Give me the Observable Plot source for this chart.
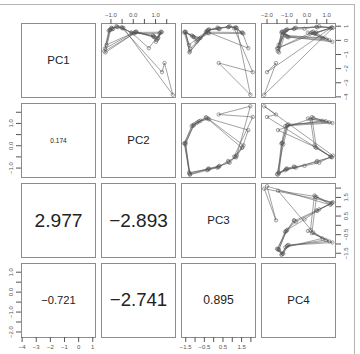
<!DOCTYPE html>
<html>
<head>
<meta charset="utf-8">
<script src="https://cdn.jsdelivr.net/npm/d3@7"></script>
<script src="https://cdn.jsdelivr.net/npm/@observablehq/plot@0.6"></script>
<style>
  html, body { margin: 0; padding: 0; background: #fff; }
  #wrap { position: relative; width: 360px; height: 354px; overflow: hidden; font-family: "Liberation Sans", Arial, sans-serif; }
  #wrap svg { position: absolute; overflow: visible; }
  #border { position: absolute; left: -2px; top: 4px; width: 356px; height: 360px; border-top: 1px solid #b4b4b4; border-right: 1px solid #b4b4b4; }
</style>
</head>
<body>
<div id="wrap"><div id="border"></div></div>
<script>
// Variables
const varNames = ["PC1", "PC2", "PC3", "PC4"];

const PC1 = [0.55, 0.12, 0.30, 0.62, -0.32, 0.72, 0.86, 0.96, 0.90, 0.52, -0.55,
             0.62, 0.02, 0.22, 0.58, -0.58, 0.78, 0.82, 1.00, 0.88,
             -3.85, -1.60, -2.25, 0.85, 0.48,
             0.50, 0.18, 0.35, 0.55, -0.78, 0.68, 0.90, 0.93, 0.92, 0.56,
             0.58, -0.10, 0.25, 0.60, -0.85, 0.74, 0.80];
const PC2 = [1.22, 1.10, 0.92, 0.12, -1.20, -1.06, -0.96, -0.73, -0.50, -0.06, 0.70,
             1.25, 1.05, 0.96, 0.06, -1.27, -1.04, -0.90, -0.76, -0.44,
             1.77, 1.40, 1.29, -0.48, 0.02,
             1.18, 1.12, 0.88, 0.10, -1.30, -1.10, -0.98, -0.68, -0.52, -0.10,
             1.28, 1.02, 0.90, 0.14, -1.24, -1.02, -0.93];
const PC3 = [-0.30, -0.78, -1.12, -1.55, -1.32, -0.32, 0.24, 0.80, 1.16, 1.55, 1.86,
             -0.38, -0.86, -1.05, -1.52, -1.26, -0.24, 0.32, 0.86, 1.24,
             1.97, 0.27, 2.10, 1.10, 1.60,
             -0.25, -0.70, -1.18, -1.58, -1.28, -0.35, 0.20, 0.78, 1.20, 1.52,
             -0.42, -0.92, -1.08, -1.50, -1.30, -0.28, 0.28];
const PC4 = [0.05, 0.95, -1.00, -1.25, -1.42, -1.05, -0.62, 0.48, 1.22, 0.42, -1.45,
             0.32, 1.12, -0.92, -1.18, -1.50, -0.98, -0.12, 0.62, 1.30,
             -2.14, -1.55, -2.00, 1.18, 0.38,
             0.18, 0.78, -1.08, -1.28, -1.46, -1.10, -0.55, 0.52, 1.26, 0.48,
             0.25, 1.28, -0.98, -1.22, -1.40, -1.02, -0.65];

// Lower-panel values (row, col order: PC2/PC1, PC3/PC1, PC3/PC2, PC4/PC1, PC4/PC2, PC4/PC3)
const lowerValues = [0.174, 2.977, -2.893, -0.721, -2.741, 0.895];

// Tick values and labelled ticks
const pc1Ticks = [-4, -3, -2, -1, 0, 1];
const pc1Labels = [-4, -3, -2, -1, 0, 1];
const pc2Ticks = [-1, -0.5, 0, 0.5, 1, 1.5];
const pc2Labels = [-1, 0, 1];
const pc3Ticks = [-1.5, -1, -0.5, 0, 0.5, 1, 1.5, 2];
const pc3Labels = [-1.5, -0.5, 0.5, 1.5];
const pc4Ticks = [-2, -1.5, -1, -0.5, 0, 0.5, 1];
const pc4Labels = [-2, -1, 0, 1];

const series = [PC1, PC2, PC3, PC4];
const ticks = [pc1Ticks, pc2Ticks, pc3Ticks, pc4Ticks];
const labels = [pc1Labels, pc2Labels, pc3Labels, pc4Labels];
const fmts = [d3.format("d"), d3.format(".1f"), d3.format(".1f"), d3.format(".1f")];
const minus = s => s.replace("-", "\u2212");

const data = PC1.map((_, k) => ({PC1: PC1[k], PC2: PC2[k], PC3: PC3[k], PC4: PC4[k]}));

// R-style 4% padded ranges
const domains = series.map(s => {
  const [a, b] = d3.extent(s);
  const p = (b - a) * 0.04;
  return [a - p, b + p];
});

const lowerMap = {};
let li = 0;
for (let i = 1; i < 4; i++) for (let j = 0; j < i; j++) lowerMap[i + "," + j] = lowerValues[li++];

const M = 24, S = 74, PITCH = 80, X0 = 21, Y0 = 23;
const frameColor = "#8c8c8c", inkColor = "#555555", tickText = "#555555";
const wrap = document.getElementById("wrap");

for (let i = 0; i < 4; i++) {
  for (let j = 0; j < 4; j++) {
    const marks = [Plot.frame({stroke: frameColor, strokeWidth: 1})];
    if (i === j) {
      marks.push(Plot.text([varNames[i]], {frameAnchor: "middle", text: d => d, fontSize: 11.5, fill: "#222"}));
    } else if (i < j) {
      marks.push(Plot.line(data, {x: varNames[j], y: varNames[i], stroke: inkColor, strokeWidth: 0.55}));
      marks.push(Plot.dot(data, {x: varNames[j], y: varNames[i], r: 1.7, stroke: inkColor, strokeWidth: 0.55, fill: "none"}));
    } else {
      const v = lowerMap[i + "," + j];
      const fs = 12.7 * Math.pow(Math.abs(v), 0.38);
      marks.push(Plot.text([v], {frameAnchor: "middle", text: d => minus(d3.format(".3f")(d)), fontSize: fs, fill: "#222"}));
    }
    // x axes: top for PC2/PC4 columns on first row, bottom for PC1/PC3 columns on last row
    const xAnchor = (i === 0 && j % 2 === 1) ? "top" : (i === 3 && j % 2 === 0) ? "bottom" : null;
    if (xAnchor) {
      marks.push(Plot.axisX({
        anchor: xAnchor, ticks: ticks[j], tickSize: 5, tickPadding: 2, fontSize: 6,
        color: tickText, label: null,
        tickFormat: d => labels[j].includes(d) ? minus(fmts[j](d)) : ""
      }));
    }
    // y axes: left for PC2/PC4 rows on first column, right for PC1/PC3 rows on last column
    const yAnchor = (j === 0 && i % 2 === 1) ? "left" : (j === 3 && i % 2 === 0) ? "right" : null;
    if (yAnchor) {
      marks.push(Plot.axisY({
        anchor: yAnchor, ticks: ticks[i], tickSize: 5, color: tickText, label: null,
        tickFormat: () => ""
      }));
      marks.push(Plot.text(labels[i], {
        y: d => d, frameAnchor: yAnchor, dx: yAnchor === "left" ? -10.5 : 10.5,
        rotate: -90, text: d => minus(fmts[i](d)), fontSize: 6, fill: tickText,
        textAnchor: "middle", lineAnchor: "middle"
      }));
    }
    const chart = Plot.plot({
      width: S + 2 * M, height: S + 2 * M,
      marginTop: M, marginBottom: M, marginLeft: M, marginRight: M,
      x: {domain: domains[j], axis: null},
      y: {domain: domains[i], axis: null},
      style: {background: "transparent", color: tickText, fontFamily: "Liberation Sans, Arial, sans-serif", overflow: "visible"},
      marks
    });
    chart.style.left = (X0 + PITCH * j - M) + "px";
    chart.style.top = (Y0 + PITCH * i - M) + "px";
    wrap.appendChild(chart);
  }
}
</script>
</body>
</html>
